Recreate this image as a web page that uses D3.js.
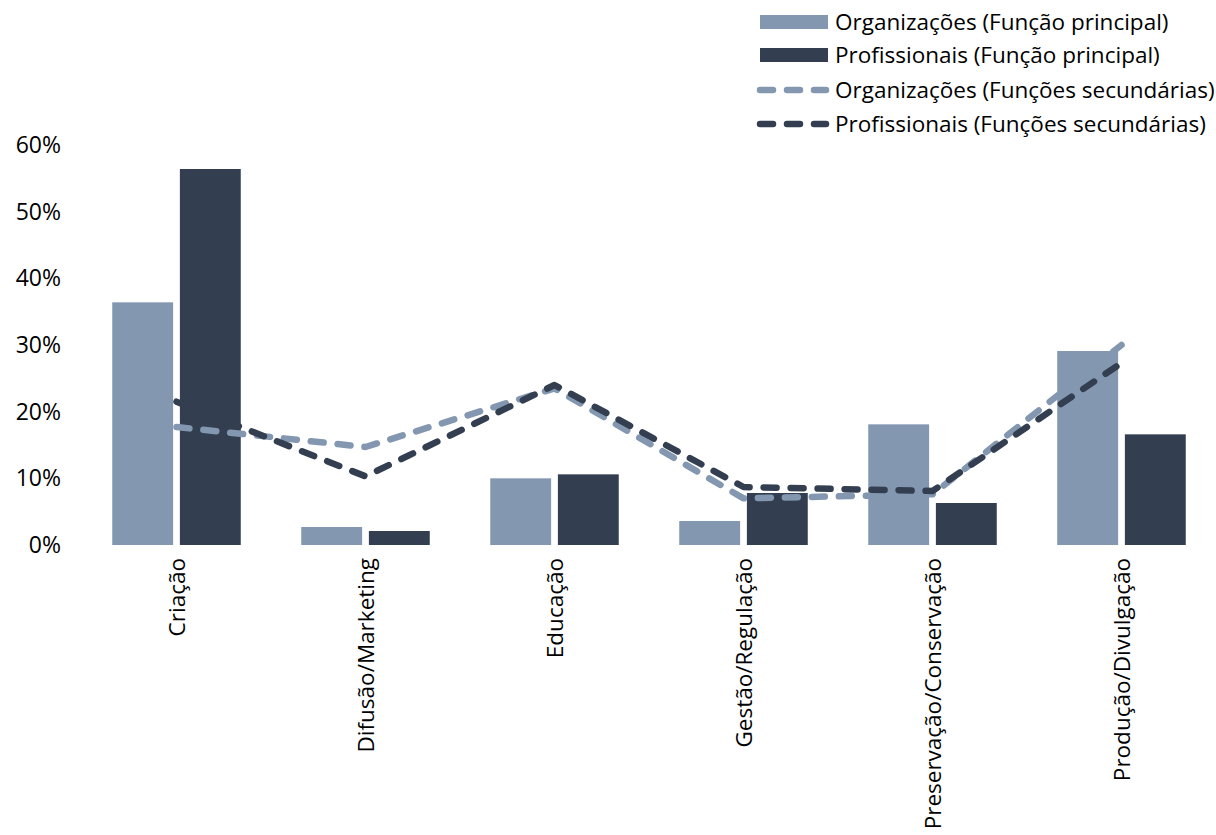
<!DOCTYPE html>
<html>
<head>
<meta charset="utf-8">
<script src="https://cdn.jsdelivr.net/npm/d3@7"></script>
<style>
  body { margin: 0; background: #fff; }
  text { font-family: "Open Sans", "Noto Sans", sans-serif; fill: #000; }
</style>
</head>
<body>
<div id="chart"></div>
<script>
const categories = ["Criação", "Difusão/Marketing", "Educação", "Gestão/Regulação", "Preservação/Conservação", "Produção/Divulgação"];
const orgPrincipal = [36.4, 2.7, 10.0, 3.6, 18.1, 29.1];
const profPrincipal = [56.4, 2.1, 10.6, 7.8, 6.3, 16.6];
const orgSecundarias = [17.7, 14.7, 23.5, 7.0, 7.6, 30.0];
const profSecundarias = [21.5, 10.3, 24.0, 8.7, 8.1, 27.3];
const yTicks = [0, 10, 20, 30, 40, 50, 60];
const seriesNames = ["Organizações (Função principal)", "Profissionais (Função principal)",
                     "Organizações (Funções secundárias)", "Profissionais (Funções secundárias)"];

const light = "#8497B0", dark = "#333F50";
const width = 1216, height = 835;

let svg = d3.select("#chart").append("svg")
    .attr("width", width)
    .attr("height", height);

let xScale = d3.scaleBand()
    .domain(categories)
    .range([82, 1216])
    .paddingInner(0.32)
    .paddingOuter(0.16);

let xSub = d3.scaleBand()
    .domain(["org", "prof"])
    .range([0, xScale.bandwidth()])
    .paddingInner(0.1);

let yScale = d3.scaleLinear()
    .domain([0, 60])
    .range([545, 145]);

// y axis labels
let yAxis = svg.append("g")
    .attr("transform", "translate(61,0)")
    .call(d3.axisLeft(yScale).tickValues(yTicks).tickFormat(d => d + "%").tickSize(0).tickPadding(0));
yAxis.select(".domain").remove();
yAxis.selectAll("text").style("font-size", "23px").attr("font-family", null);

// bars
let groups = svg.selectAll(".grp")
    .data(categories)
    .enter().append("g")
    .attr("transform", d => "translate(" + xScale(d) + ",0)");

groups.append("rect")
    .attr("x", xSub("org"))
    .attr("y", (d, i) => yScale(orgPrincipal[i]))
    .attr("width", xSub.bandwidth())
    .attr("height", (d, i) => yScale(0) - yScale(orgPrincipal[i]))
    .attr("fill", light);

groups.append("rect")
    .attr("x", xSub("prof"))
    .attr("y", (d, i) => yScale(profPrincipal[i]))
    .attr("width", xSub.bandwidth())
    .attr("height", (d, i) => yScale(0) - yScale(profPrincipal[i]))
    .attr("fill", dark);

// dashed lines
let line = d3.line()
    .x((d, i) => xScale(categories[i]) + xScale.bandwidth() / 2)
    .y(d => yScale(d));

[[orgSecundarias, light], [profSecundarias, dark]].forEach(([vals, color]) => {
    svg.append("path")
        .datum(vals)
        .attr("d", line)
        .attr("fill", "none")
        .attr("stroke", color)
        .attr("stroke-width", 6.5)
        .attr("stroke-linecap", "round")
        .attr("stroke-linejoin", "round")
        .attr("stroke-dasharray", "13,14");
});

// x labels (rotated)
svg.selectAll(".xlab")
    .data(categories)
    .enter().append("text")
    .attr("transform", d => "translate(" + (xScale(d) + xScale.bandwidth() / 2 + 8) + ",558) rotate(-90)")
    .attr("text-anchor", "end")
    .style("font-size", "22.5px")
    .text(d => d);

// legend
let legend = svg.append("g");
let rowY = [22, 55, 90, 124];
seriesNames.forEach((name, i) => {
    let color = (i % 2 === 0) ? light : dark;
    if (i < 2) {
        legend.append("rect")
            .attr("x", 760).attr("y", rowY[i] - 7)
            .attr("width", 68).attr("height", 14)
            .attr("fill", color);
    } else {
        legend.append("path")
            .attr("d", "M760," + rowY[i] + "H826")
            .attr("stroke", color)
            .attr("stroke-width", 6.5)
            .attr("stroke-linecap", "round")
            .attr("stroke-dasharray", "13,14");
    }
    legend.append("text")
        .attr("x", 835).attr("y", rowY[i])
        .attr("dy", "0.35em")
        .style("font-size", "22.5px")
        .text(name);
});
</script>
</body>
</html>
